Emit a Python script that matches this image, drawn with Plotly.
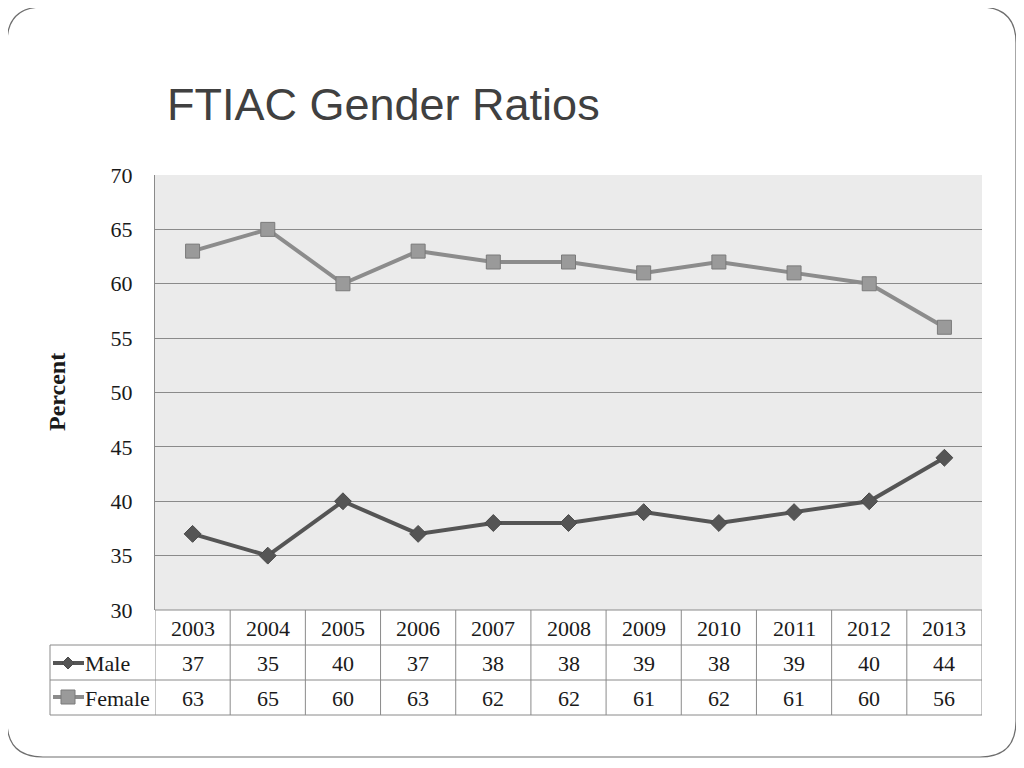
import plotly.graph_objects as go

years = [2003, 2004, 2005, 2006, 2007, 2008, 2009, 2010, 2011, 2012, 2013]
male = [37, 35, 40, 37, 38, 38, 39, 38, 39, 40, 44]
female = [63, 65, 60, 63, 62, 62, 61, 62, 61, 60, 56]
y_ticks = [30, 35, 40, 45, 50, 55, 60, 65, 70]

# page body has an 8px margin; work in screen coordinates
OFF = 8
W, H = 1024 - 2 * OFF, 768 - 2 * OFF
L, R, T, B = 155, 982, 175, 610
PW, PH = R - L, B - T

def px(x):
    return (x - L) / PW

def py(y):
    return (B - y) / PH

male_color = "#555555"
female_line = "#8c8c8c"
grid = "#8a8a8a"
serif = "Liberation Serif, Times New Roman, serif"

fig = go.Figure()
fig.add_trace(go.Scatter(x=years, y=male, mode="lines+markers", name="Male",
                         line=dict(color=male_color, width=4),
                         marker=dict(symbol="diamond", size=13, color=male_color,
                                     line=dict(color="#4a4a4a", width=1))))
fig.add_trace(go.Scatter(x=years, y=female, mode="lines+markers", name="Female",
                         line=dict(color=female_line, width=4),
                         marker=dict(symbol="square", size=14, color="#9a9a9a",
                                     line=dict(color="#7a7a7a", width=1))))

shapes = []
ann = []

# rounded slide border
x0, x1, y0, y1, r = 7, 1016, 7, 757, 36
rx, ry = r / PW, r / PH
X0, X1, Y0, Y1 = px(x0), px(x1), py(y0), py(y1)
path = (f"M {X0+rx},{Y0} L {X1-rx},{Y0} Q {X1},{Y0} {X1},{Y0-ry} "
        f"L {X1},{Y1+ry} Q {X1},{Y1} {X1-rx},{Y1} L {X0+rx},{Y1} "
        f"Q {X0},{Y1} {X0},{Y1+ry} L {X0},{Y0-ry} Q {X0},{Y0} {X0+rx},{Y0} Z")
shapes.append(dict(type="path", path=path, xref="paper", yref="paper",
                   line=dict(color="#6e6e6e", width=1.2), layer="below"))

# data table grid
tline = dict(color="#8a8a8a", width=1)
row_y = [610, 645, 680, 715]
for i, yy in enumerate(row_y):
    xs = L if i == 0 else 50
    shapes.append(dict(type="line", xref="paper", yref="paper",
                       x0=px(xs), x1=px(R), y0=py(yy), y1=py(yy), line=tline))
shapes.append(dict(type="line", xref="paper", yref="paper",
                   x0=px(50), x1=px(50), y0=py(645), y1=py(715), line=tline))
for k in range(len(years) + 1):
    bx = years[0] - 0.5 + k
    shapes.append(dict(type="line", xref="x", yref="paper",
                       x0=bx, x1=bx, y0=py(610), y1=py(715), line=tline))

cell_font = dict(family=serif, size=22, color="#1a1a1a")
for yr, m, f in zip(years, male, female):
    for yy, txt in ((628, yr), (663, m), (698, f)):
        ann.append(dict(x=yr, y=py(yy), xref="x", yref="paper", text=str(txt),
                        showarrow=False, xanchor="center", yanchor="middle",
                        font=cell_font))

# legend keys in the table
shapes.append(dict(type="line", xref="paper", yref="paper", x0=px(53), x1=px(84),
                   y0=py(663), y1=py(663), line=dict(color=male_color, width=4)))
d = 6
shapes.append(dict(type="path", xref="paper", yref="paper",
                   path=f"M {px(68-d)},{py(663)} L {px(68)},{py(663-d)} L {px(68+d)},{py(663)} L {px(68)},{py(663+d)} Z",
                   fillcolor=male_color, line=dict(color="#4a4a4a", width=1)))
shapes.append(dict(type="line", xref="paper", yref="paper", x0=px(53), x1=px(84),
                   y0=py(697), y1=py(697), line=dict(color=female_line, width=4)))
s = 7
shapes.append(dict(type="rect", xref="paper", yref="paper",
                   x0=px(68-s), x1=px(68+s), y0=py(697+s), y1=py(697-s),
                   fillcolor="#9a9a9a", line=dict(color="#7a7a7a", width=1)))
ann.append(dict(x=px(83), y=py(663), xref="paper", yref="paper", text="Male",
                showarrow=False, xanchor="left", yanchor="middle", font=cell_font))
ann.append(dict(x=px(83), y=py(698), xref="paper", yref="paper", text="Female",
                showarrow=False, xanchor="left", yanchor="middle", font=cell_font))

# title and axis title
ann.append(dict(x=px(165), y=py(105), xref="paper", yref="paper",
                text="FTIAC Gender Ratios", showarrow=False, xanchor="left",
                yanchor="middle",
                font=dict(family="Liberation Sans, Arial, sans-serif",
                          size=45, color="#404040")))
ann.append(dict(x=px(57), y=py(392), xref="paper", yref="paper",
                text="<b>Percent</b>", showarrow=False, textangle=-90,
                xanchor="center", yanchor="middle",
                font=dict(family=serif, size=24, color="#1a1a1a")))

fig.update_layout(
    width=W, height=H,
    margin=dict(l=L - OFF, r=W - (R - OFF), t=T - OFF, b=H - (B - OFF), pad=0),
    paper_bgcolor="white", plot_bgcolor="#ebebeb",
    showlegend=False,
    shapes=shapes, annotations=ann,
    xaxis=dict(range=[years[0] - 0.5, years[-1] + 0.5], showticklabels=False,
               showgrid=False, zeroline=False, showline=False, ticks=""),
    yaxis=dict(range=[30, 70], tickvals=y_ticks, showgrid=True, gridcolor=grid,
               gridwidth=1, zeroline=False, showline=True, linecolor=grid,
               ticks="outside", ticklen=17, tickcolor="rgba(0,0,0,0)",
               tickfont=dict(family=serif, size=22, color="#1a1a1a")),
)

fig.write_html("out.html")
